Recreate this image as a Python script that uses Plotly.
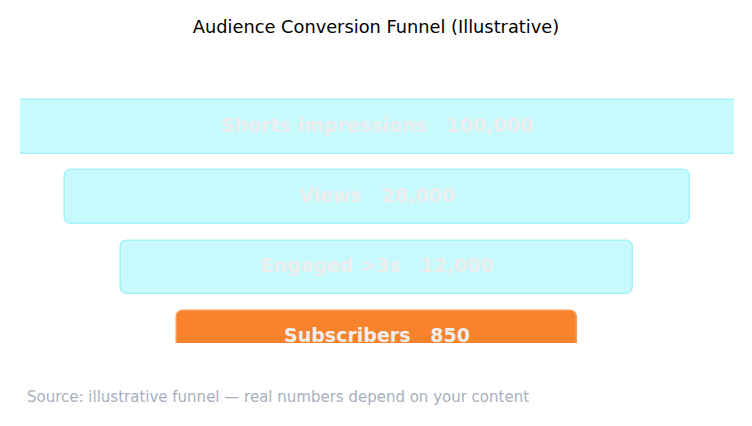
import plotly.graph_objects as go

# Funnel stages (illustrative numbers)
stages = ["Shorts impressions", "Views", "Engaged >3s", "Subscribers"]
counts = [100000, 28000, 12000, 850]
highlight = "Subscribers"

# Colors
fill_dim = "#C6FAFC"
edge_dim = "#A6F2F8"
fill_hi = "#F9822C"
edge_hi = "#F99A55"
label_color = "#EEEEEE"

# funnel shape: each stage a bit narrower than the one above (layout only)
widths = [0.98 - 0.15 * i for i in range(len(stages))]
fills = [fill_hi if s == highlight else fill_dim for s in stages]
edges = [edge_hi if s == highlight else edge_dim for s in stages]
labels = [f"<b>{s}   {c:,}</b>" for s, c in zip(stages, counts)]

px_x = 753.0   # pixels per x unit
bar_h = 0.765

fig = go.Figure()

fig.add_trace(go.Bar(
    y=stages, x=widths, base=[-w / 2 for w in widths],
    orientation="h", width=bar_h,
    marker=dict(color=fills, line=dict(color=edges, width=1.5), cornerradius=7),
    hoverinfo="skip", showlegend=False,
))

fig.add_trace(go.Scatter(
    x=[0] * len(stages), y=stages, mode="text", text=labels,
    textposition="middle center",
    textfont=dict(family="DejaVu Sans", size=19, color=label_color),
    hoverinfo="skip", showlegend=False,
))

fig.add_annotation(
    text="Source: illustrative funnel \u2014 real numbers depend on your content",
    xref="paper", yref="paper", x=5 / 714, y=-54 / 280, xanchor="left", yanchor="middle",
    showarrow=False, font=dict(family="DejaVu Sans", size=15, color="#A7B0BE"),
)

fig.update_layout(
    title=dict(text="Audience Conversion Funnel (Illustrative)", x=368 / 744, xanchor="center",
               y=1 - 19 / 418, yref="container", yanchor="middle",
               font=dict(family="DejaVu Sans", size=17.8, color="#000000")),
    width=744, height=418,
    margin=dict(l=12, r=18, t=55, b=83),
    barmode="overlay", bargap=0,
    plot_bgcolor="white", paper_bgcolor="white",
    font=dict(family="DejaVu Sans"),
)
fig.update_xaxes(visible=False, range=[-714 / 2 / px_x, 714 / 2 / px_x])
fig.update_yaxes(visible=False, type="category", categoryorder="array", categoryarray=stages,
                 range=[3.08, -0.915])

fig.write_html("out.html")
